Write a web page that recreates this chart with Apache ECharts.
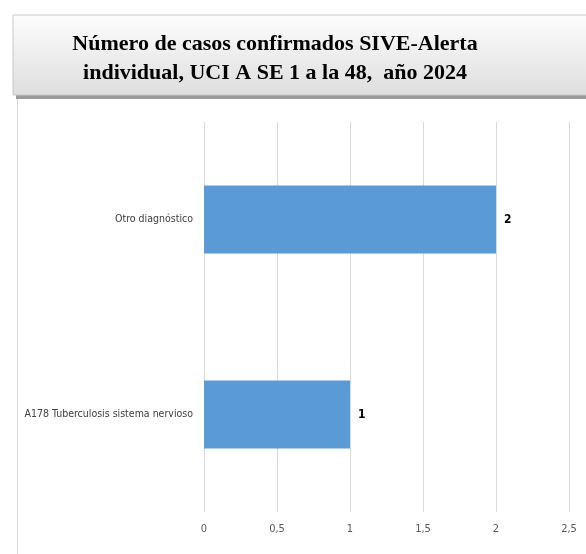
<!DOCTYPE html>
<html><head><meta charset="utf-8">
<script src="https://cdn.jsdelivr.net/npm/echarts@6/dist/echarts.min.js"></script>
<style>html,body{margin:0;padding:0;background:#fff}#c{width:586px;height:554px}</style>
</head><body><div id="c"></div>
<script>
const categories = ['A178 Tuberculosis sistema nervioso', 'Otro diagnóstico'];
const values = [1, 2];
const xTicks = ['0', '0,5', '1', '1,5', '2', '2,5'];
const titleLines = ['Número de casos confirmados SIVE-Alerta', 'individual, UCI A SE 1 a la 48,  año 2024'];

const chart = echarts.init(document.getElementById('c'), null, {renderer: 'canvas'});
const narrow = '"DejaVu Sans Condensed", "Liberation Sans Narrow", sans-serif';
chart.setOption({
  animation: false,
  backgroundColor: '#fff',
  graphic: [
    {type: 'line', shape: {x1: 17.5, y1: 98, x2: 17.5, y2: 554}, style: {stroke: '#d9d9d9', lineWidth: 1}, z: 0},
    {type: 'rect', shape: {x: 16, y: 19, width: 580, height: 80}, style: {fill: '#9a9a9a'}, z: 1},
    {type: 'rect', shape: {x: 13, y: 15, width: 580, height: 80},
     style: {fill: new echarts.graphic.LinearGradient(0, 0, 0, 1, [{offset: 0, color: '#fdfdfd'}, {offset: 1, color: '#dedede'}]), stroke: '#c8c8c8', lineWidth: 1}, z: 2},
    {type: 'text', x: 275, y: 30, z: 3,
     style: {text: titleLines.join('\n'), font: 'bold 22px "Liberation Serif", "DejaVu Serif", serif', fill: '#000', textAlign: 'center', textVerticalAlign: 'top', lineHeight: 29}}
  ],
  grid: {left: 204, right: 17, top: 122, bottom: 42, containLabel: false},
  xAxis: {
    type: 'value', min: 0, max: 2.5, interval: 0.5,
    axisLine: {show: false}, axisTick: {show: false},
    splitLine: {show: true, lineStyle: {color: '#d9d9d9', width: 1}},
    axisLabel: {margin: 12, color: '#595959', fontSize: 11, fontFamily: narrow,
      formatter: v => xTicks[Math.round(v / 0.5)]}
  },
  yAxis: {
    type: 'category', data: categories,
    axisLine: {show: false}, axisTick: {show: false},
    axisLabel: {margin: 11, color: '#404040', fontSize: 10.5, fontFamily: narrow}
  },
  series: [{
    type: 'bar', data: values, barWidth: 68,
    itemStyle: {color: '#5b9bd5'},
    label: {show: true, position: 'right', distance: 8, color: '#000', fontWeight: 'bold', fontSize: 12, fontFamily: narrow}
  }]
});
</script></body></html>
